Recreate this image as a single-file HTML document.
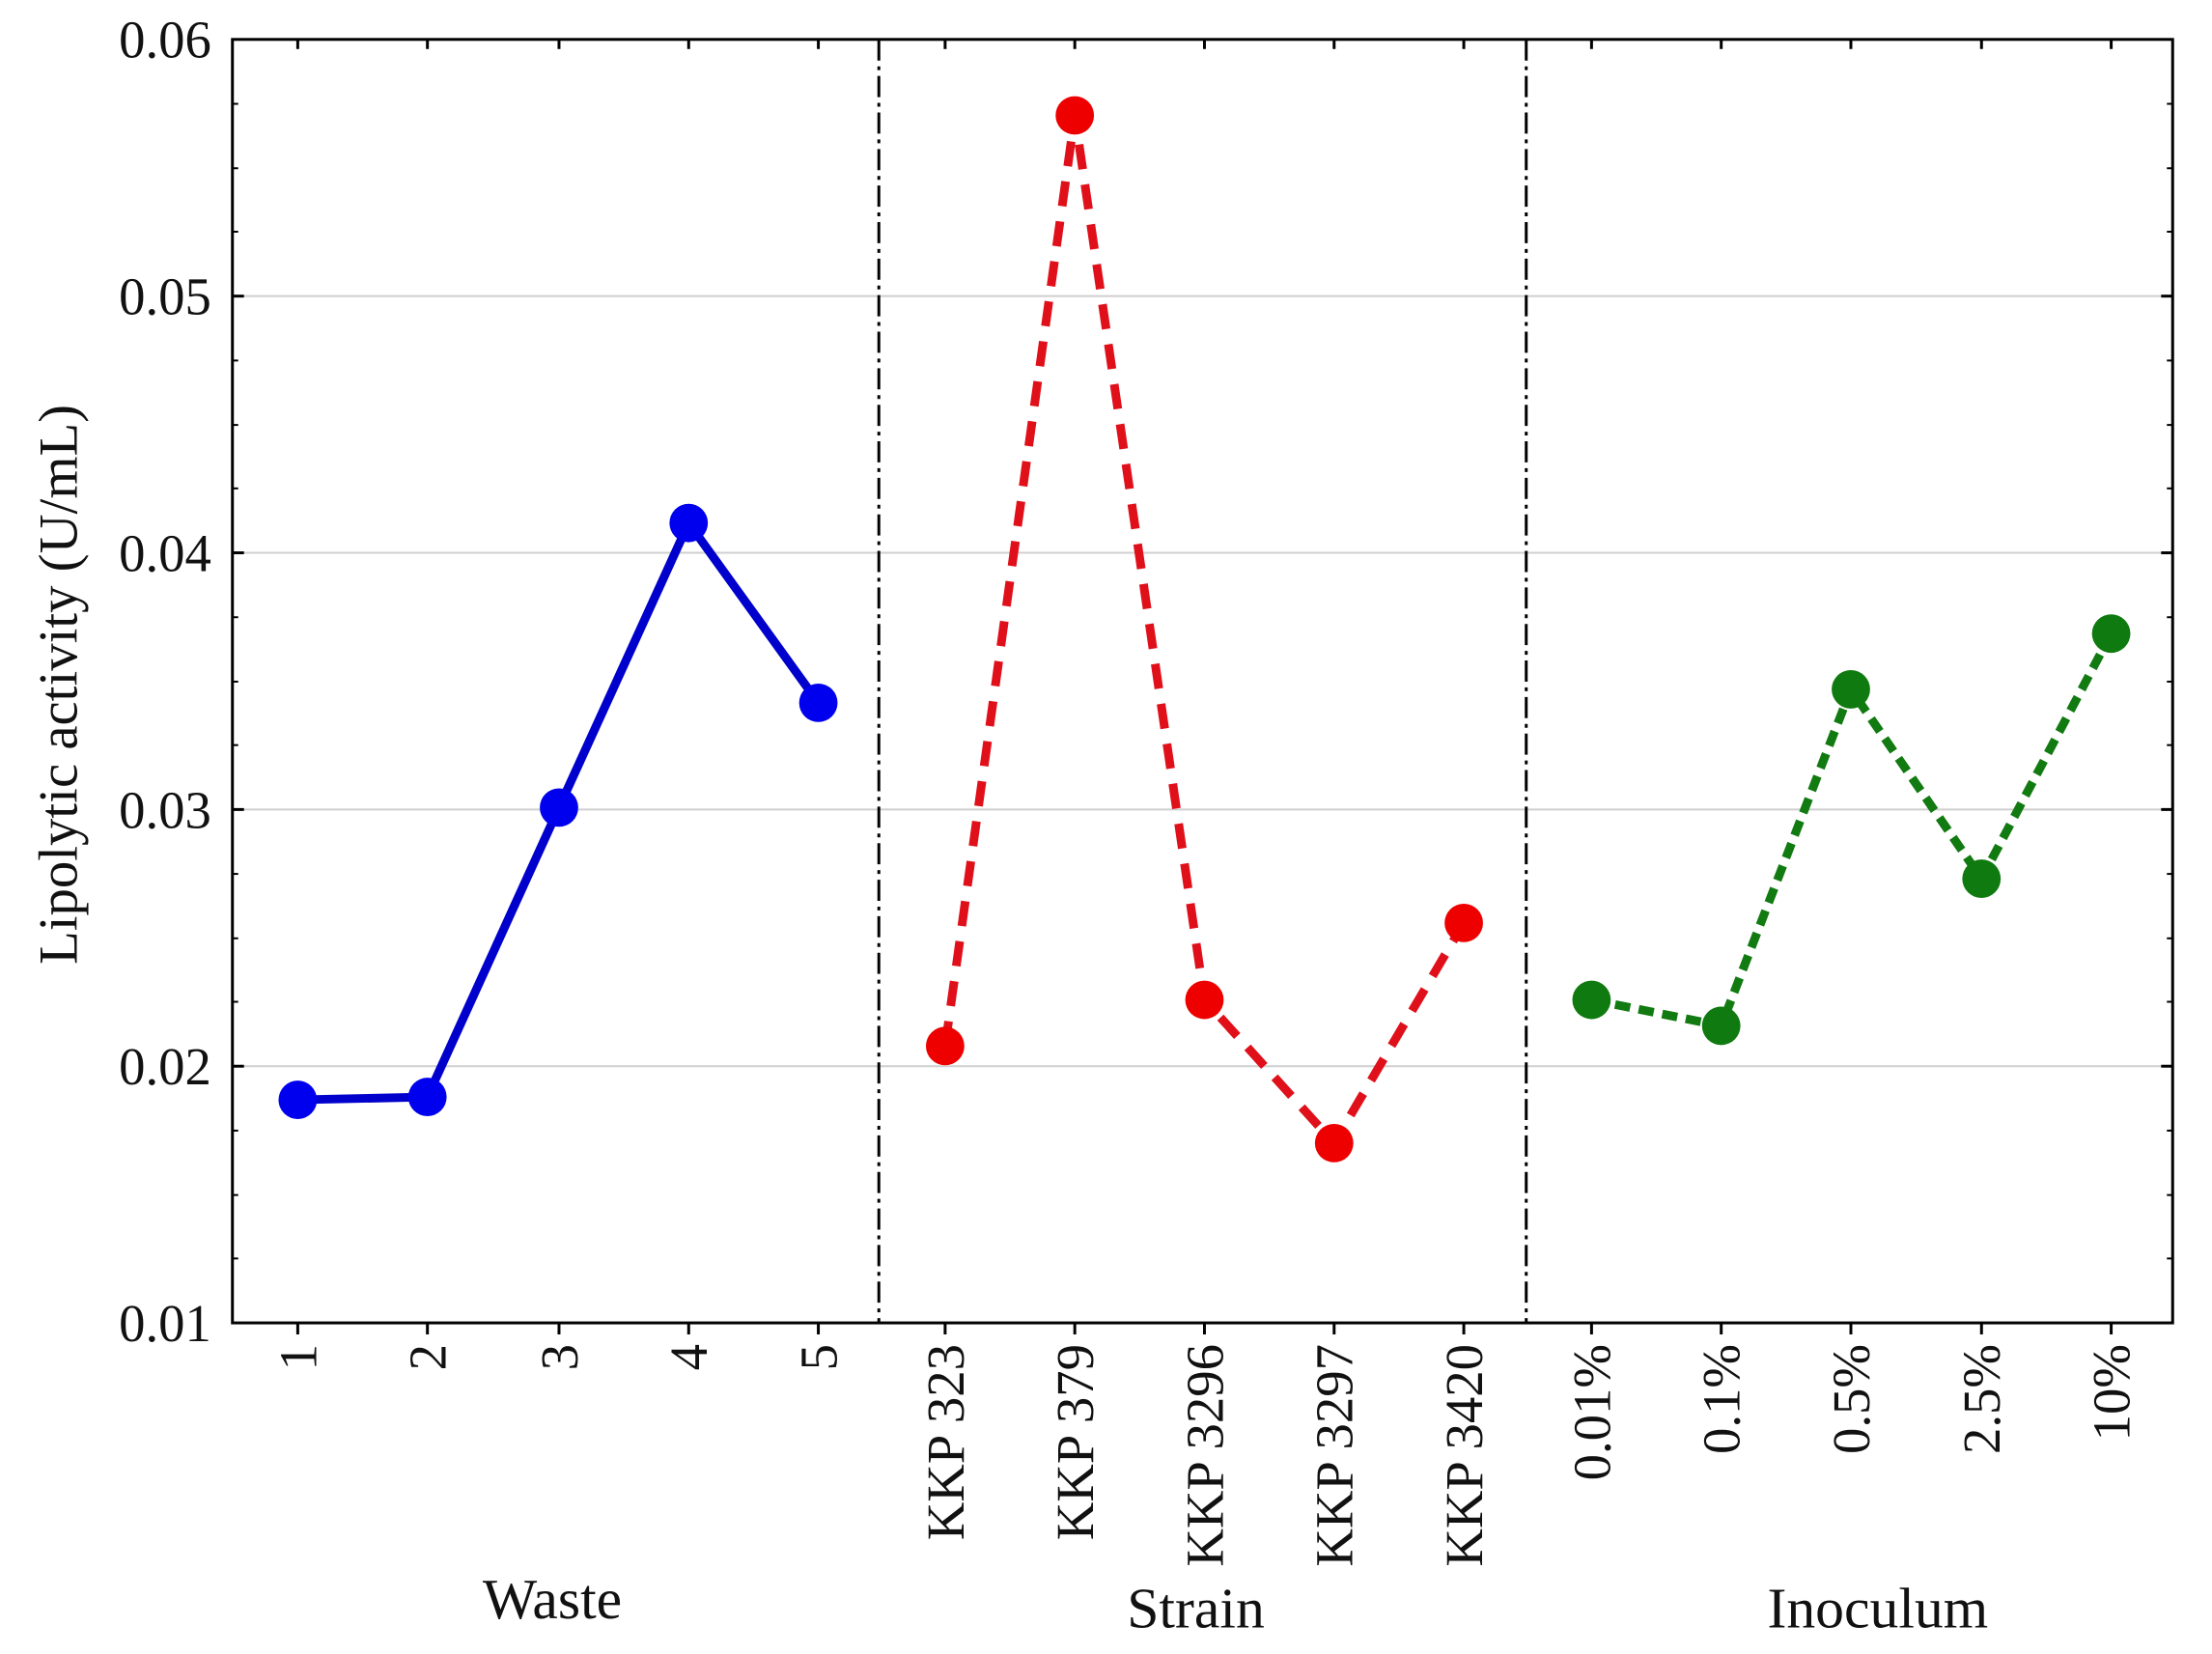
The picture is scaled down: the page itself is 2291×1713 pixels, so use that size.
<!DOCTYPE html>
<html><head><style>html,body{margin:0;padding:0;background:#fff}svg{display:block}</style></head><body>
<svg width="2291" height="1713" xmlns="http://www.w3.org/2000/svg" font-family="Liberation Serif, serif">
<rect width="2291" height="1713" fill="#fff"/>
<g transform="scale(0.9948,0.9957)">
<g stroke="#cfcfcf" stroke-width="2">
<line x1="242" x2="2262" y1="308" y2="308"/>
<line x1="242" x2="2262" y1="575" y2="575"/>
<line x1="242" x2="2262" y1="842" y2="842"/>
<line x1="242" x2="2262" y1="1109" y2="1109"/>
</g>
<g stroke="#000" stroke-width="3" stroke-dasharray="22,6,4,6">
<line x1="915" x2="915" y1="41" y2="1376"/>
<line x1="1589" x2="1589" y1="41" y2="1376"/>
</g>
<rect x="242" y="41" width="2020" height="1335" fill="none" stroke="#000" stroke-width="3"/>
<g stroke="#000" stroke-width="3">
<line x1="242" x2="254" y1="308" y2="308"/><line x1="242" x2="254" y1="575" y2="575"/><line x1="242" x2="254" y1="842" y2="842"/><line x1="242" x2="254" y1="1109" y2="1109"/>
<line x1="2250" x2="2262" y1="308" y2="308"/><line x1="2250" x2="2262" y1="575" y2="575"/><line x1="2250" x2="2262" y1="842" y2="842"/><line x1="2250" x2="2262" y1="1109" y2="1109"/>
</g>
<g stroke="#000" stroke-width="2">
<line x1="242" x2="248" y1="108" y2="108"/><line x1="242" x2="248" y1="175" y2="175"/><line x1="242" x2="248" y1="241" y2="241"/>
<line x1="242" x2="248" y1="375" y2="375"/><line x1="242" x2="248" y1="442" y2="442"/><line x1="242" x2="248" y1="508" y2="508"/>
<line x1="242" x2="248" y1="642" y2="642"/><line x1="242" x2="248" y1="709" y2="709"/><line x1="242" x2="248" y1="775" y2="775"/>
<line x1="242" x2="248" y1="909" y2="909"/><line x1="242" x2="248" y1="976" y2="976"/><line x1="242" x2="248" y1="1042" y2="1042"/>
<line x1="242" x2="248" y1="1176" y2="1176"/><line x1="242" x2="248" y1="1243" y2="1243"/><line x1="242" x2="248" y1="1309" y2="1309"/>
<line x1="2256" x2="2262" y1="108" y2="108"/><line x1="2256" x2="2262" y1="175" y2="175"/><line x1="2256" x2="2262" y1="241" y2="241"/>
<line x1="2256" x2="2262" y1="375" y2="375"/><line x1="2256" x2="2262" y1="442" y2="442"/><line x1="2256" x2="2262" y1="508" y2="508"/>
<line x1="2256" x2="2262" y1="642" y2="642"/><line x1="2256" x2="2262" y1="709" y2="709"/><line x1="2256" x2="2262" y1="775" y2="775"/>
<line x1="2256" x2="2262" y1="909" y2="909"/><line x1="2256" x2="2262" y1="976" y2="976"/><line x1="2256" x2="2262" y1="1042" y2="1042"/>
<line x1="2256" x2="2262" y1="1176" y2="1176"/><line x1="2256" x2="2262" y1="1243" y2="1243"/><line x1="2256" x2="2262" y1="1309" y2="1309"/>
</g>
<g stroke="#000" stroke-width="3">
<line x1="310" x2="310" y1="41" y2="51"/><line x1="445" x2="445" y1="41" y2="51"/><line x1="582" x2="582" y1="41" y2="51"/><line x1="717" x2="717" y1="41" y2="51"/><line x1="852" x2="852" y1="41" y2="51"/>
<line x1="984" x2="984" y1="41" y2="51"/><line x1="1119" x2="1119" y1="41" y2="51"/><line x1="1254" x2="1254" y1="41" y2="51"/><line x1="1389" x2="1389" y1="41" y2="51"/><line x1="1524" x2="1524" y1="41" y2="51"/>
<line x1="1657" x2="1657" y1="41" y2="51"/><line x1="1792" x2="1792" y1="41" y2="51"/><line x1="1927" x2="1927" y1="41" y2="51"/><line x1="2063" x2="2063" y1="41" y2="51"/><line x1="2198" x2="2198" y1="41" y2="51"/>
<line x1="310" x2="310" y1="1376" y2="1388"/><line x1="445" x2="445" y1="1376" y2="1388"/><line x1="582" x2="582" y1="1376" y2="1388"/><line x1="717" x2="717" y1="1376" y2="1388"/><line x1="852" x2="852" y1="1376" y2="1388"/>
<line x1="984" x2="984" y1="1376" y2="1388"/><line x1="1119" x2="1119" y1="1376" y2="1388"/><line x1="1254" x2="1254" y1="1376" y2="1388"/><line x1="1389" x2="1389" y1="1376" y2="1388"/><line x1="1524" x2="1524" y1="1376" y2="1388"/>
<line x1="1657" x2="1657" y1="1376" y2="1388"/><line x1="1792" x2="1792" y1="1376" y2="1388"/><line x1="1927" x2="1927" y1="1376" y2="1388"/><line x1="2063" x2="2063" y1="1376" y2="1388"/><line x1="2198" x2="2198" y1="1376" y2="1388"/>
</g>
<polyline fill="none" stroke="#0000cc" stroke-width="9" points="310,1144 445,1141 582,840 717,544 852,731"/>
<g fill="#0000ee"><circle cx="310" cy="1144" r="20"/><circle cx="445" cy="1141" r="20"/><circle cx="582" cy="840" r="20"/><circle cx="717" cy="544" r="20"/><circle cx="852" cy="731" r="20"/></g>
<polyline fill="none" stroke="#e0101a" stroke-width="9" stroke-dasharray="26,16" points="984,1088 1119,120 1254,1040 1389,1189 1524,960"/>
<g fill="#ee0000"><circle cx="984" cy="1088" r="20"/><circle cx="1119" cy="120" r="20"/><circle cx="1254" cy="1040" r="20"/><circle cx="1389" cy="1189" r="20"/><circle cx="1524" cy="960" r="20"/></g>
<polyline fill="none" stroke="#117a11" stroke-width="9" stroke-dasharray="16,9" points="1657,1040 1792,1067 1927,717 2063,914 2198,659"/>
<g fill="#0f7a0f"><circle cx="1657" cy="1040" r="20"/><circle cx="1792" cy="1067" r="20"/><circle cx="1927" cy="717" r="20"/><circle cx="2063" cy="914" r="20"/><circle cx="2198" cy="659" r="20"/></g>
<g font-size="55" text-anchor="end" fill="#111">
<text x="220" y="60">0.06</text><text x="220" y="327">0.05</text><text x="220" y="594">0.04</text><text x="220" y="861">0.03</text><text x="220" y="1128">0.02</text><text x="220" y="1395">0.01</text>
</g>
<text transform="translate(80,712) rotate(-90)" font-size="57" text-anchor="middle" fill="#111">Lipolytic activity (U/mL)</text>
<g font-size="55" text-anchor="end" fill="#111">
<text transform="translate(329,1398) rotate(-90)">1</text><text transform="translate(464,1398) rotate(-90)">2</text><text transform="translate(601,1398) rotate(-90)">3</text><text transform="translate(736,1398) rotate(-90)">4</text><text transform="translate(871,1398) rotate(-90)">5</text>
<text transform="translate(1003,1398) rotate(-90)">KKP 323</text><text transform="translate(1138,1398) rotate(-90)">KKP 379</text><text transform="translate(1273,1398) rotate(-90)">KKP 3296</text><text transform="translate(1408,1398) rotate(-90)">KKP 3297</text><text transform="translate(1543,1398) rotate(-90)">KKP 3420</text>
<text transform="translate(1676,1398) rotate(-90)">0.01%</text><text transform="translate(1811,1398) rotate(-90)">0.1%</text><text transform="translate(1946,1398) rotate(-90)">0.5%</text><text transform="translate(2082,1398) rotate(-90)">2.5%</text><text transform="translate(2217,1398) rotate(-90)">10%</text>
</g>
<g font-size="60" text-anchor="middle" fill="#111">
<text x="575" y="1683">Waste</text><text x="1245" y="1693">Strain</text><text x="1955" y="1693">Inoculum</text>
</g>
</g>
</svg>
</body></html>
